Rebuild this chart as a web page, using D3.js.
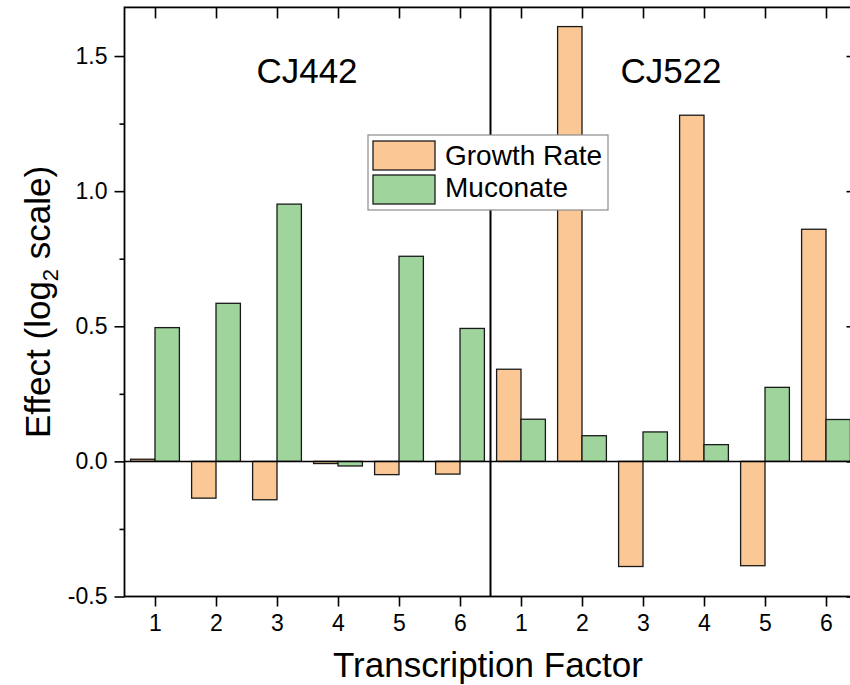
<!DOCTYPE html>
<html>
<head>
<meta charset="utf-8">
<script src="https://cdn.jsdelivr.net/npm/d3@7"></script>
<style>
body{margin:0;background:#fff;}
text{font-family:"Liberation Sans",Arial,sans-serif;fill:#000;}
</style>
</head>
<body>
<div id="chart"></div>
<script>
// transcription factors 1..6 for each strain, positions 1..12 on the x scale
const strains=["CJ442","CJ522"];
const tfLabels=["1","2","3","4","5","6","1","2","3","4","5","6"];
const growthCJ442=[0.008,-0.136,-0.142,-0.008,-0.049,-0.047];
const muconateCJ442=[0.495,0.585,0.952,-0.017,0.759,0.492];
const growthCJ522=[0.341,1.609,-0.389,1.281,-0.386,0.859];
const muconateCJ522=[0.156,0.095,0.109,0.062,0.274,0.155];
const seriesNames=["Growth Rate","Muconate"];
const yTicks=[-0.5,0.0,0.5,1.0,1.5];
const yMinor=[-0.25,0.25,0.75,1.25];

(function(){
    let W=850,H=685;
    let colors={"Growth Rate":"#fbc794","Muconate":"#9fd49d"};
    let svg=d3.select("#chart").append("svg")
        .attr("width",W).attr("height",H);

    let x=d3.scaleLinear().domain([0.5,12.5]).range([124.5,856.5]);
    let y=d3.scaleLinear().domain([-0.5,1.68]).range([596.5,7.4]);
    let bw=0.4;

    //build rows: position, series, value
    let rows=[];
    let growth=growthCJ442.concat(growthCJ522);
    let muconate=muconateCJ442.concat(muconateCJ522);
    for (let i=0;i<growth.length;i++){
        rows.push({pos:i+1,series:seriesNames[0],value:growth[i],off:-bw});
        rows.push({pos:i+1,series:seriesNames[1],value:muconate[i],off:0});
    }

    svg.append("g").selectAll("rect").data(rows).enter().append("rect")
        .attr("x",function(d){return x(d.pos+d.off)})
        .attr("width",function(d){return x(d.pos+d.off+bw)-x(d.pos+d.off)})
        .attr("y",function(d){return y(Math.max(0,d.value))})
        .attr("height",function(d){return Math.abs(y(d.value)-y(0))})
        .attr("fill",function(d){return colors[d.series]})
        .attr("stroke","#1a1a1a")
        .attr("stroke-width",1.3);

    //zero line and divider between strains
    svg.append("line")
        .attr("x1",x(0.5)).attr("x2",x(12.5))
        .attr("y1",y(0)).attr("y2",y(0))
        .attr("stroke","#000").attr("stroke-width",1.5);
    svg.append("line")
        .attr("x1",x(6.5)).attr("x2",x(6.5))
        .attr("y1",y(1.68)).attr("y2",y(-0.5))
        .attr("stroke","#000").attr("stroke-width",2);

    //axes
    let fmt=function(d){return d.toFixed(1)};
    let left=svg.append("g").attr("transform","translate("+x(0.5)+",0)")
        .call(d3.axisLeft(y).tickValues(yTicks).tickFormat(fmt).tickSize(10).tickPadding(7));
    let leftMinor=svg.append("g").attr("transform","translate("+x(0.5)+",0)")
        .call(d3.axisLeft(y).tickValues(yMinor).tickFormat("").tickSize(5));
    let bottom=svg.append("g").attr("transform","translate(0,"+y(-0.5)+")")
        .call(d3.axisBottom(x).tickValues(d3.range(1,13)).tickFormat(function(d){return tfLabels[d-1]}).tickSize(10).tickPadding(8));
    let top=svg.append("g").attr("transform","translate(0,"+y(1.68)+")")
        .call(d3.axisTop(x).tickValues(d3.range(1,13)).tickFormat("").tickSize(-11));
    let right=svg.append("g").attr("transform","translate("+x(12.5)+",0)")
        .call(d3.axisRight(y).tickValues(yTicks).tickFormat("").tickSize(-10));
    [left,leftMinor,bottom,top,right].forEach(function(g){
        g.select(".domain").remove();
        g.selectAll(".tick line").attr("stroke","#000").attr("stroke-width",1.6);
        g.selectAll(".tick text").style("font-size","23px").attr("fill","#000")
            .style("font-family","'Liberation Sans',Arial,sans-serif");
    });

    //frame
    svg.append("rect")
        .attr("x",x(0.5)).attr("y",y(1.68))
        .attr("width",x(12.5)-x(0.5)).attr("height",y(-0.5)-y(1.68))
        .attr("fill","none").attr("stroke","#000").attr("stroke-width",1.8);

    //strain labels
    svg.selectAll(".strain").data(strains).enter().append("text")
        .attr("class","strain")
        .attr("x",function(d,i){return i===0 ? 307 : 671})
        .attr("y",83)
        .attr("text-anchor","middle")
        .style("font-size","35px")
        .text(function(d){return d});

    //axis titles
    svg.append("text")
        .attr("x",488).attr("y",677)
        .attr("text-anchor","middle")
        .style("font-size","35px")
        .text("Transcription Factor");
    let yl=svg.append("text")
        .attr("transform","translate(50,"+((y(1.68)+y(-0.5))/2)+") rotate(-90)")
        .attr("text-anchor","middle")
        .style("font-size","35px");
    yl.append("tspan").text("Effect (log");
    yl.append("tspan").attr("dy",8).style("font-size","22px").text("2");
    yl.append("tspan").attr("dy",-8).text(" scale)");

    //legend
    let lg=svg.append("g").attr("transform","translate(368,135)");
    lg.append("rect").attr("width",240).attr("height",75)
        .attr("fill","#fff").attr("stroke","#8c8c8c").attr("stroke-width",1.2);
    seriesNames.forEach(function(name,i){
        lg.append("rect")
            .attr("x",5).attr("y",6+i*34)
            .attr("width",62).attr("height",29)
            .attr("fill",colors[name]).attr("stroke","#1a1a1a").attr("stroke-width",1.3);
        lg.append("text")
            .attr("x",77).attr("y",30+i*32)
            .style("font-size","28px")
            .text(name);
    });
})();
</script>
</body>
</html>
